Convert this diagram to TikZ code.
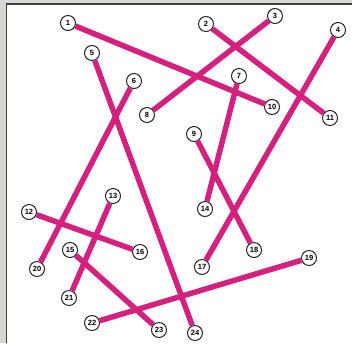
\documentclass[tikz,border=0pt]{standalone}
\usepackage{fontspec}
\setsansfont{Liberation Sans}
\definecolor{mag}{RGB}{214,32,128}
\definecolor{strip}{RGB}{215,215,212}
\begin{document}
\begin{tikzpicture}[x=1pt,y=-1pt,
  num/.style={circle,draw=black!85,line width=1pt,fill=white,minimum size=15pt,inner sep=0pt,font=\sffamily\bfseries\fontsize{7.5}{7.5}\selectfont},
  link/.style={draw=mag,line width=5.5pt}]
\useasboundingbox (0,0) rectangle (352,343);
\fill[white] (0,0) rectangle (352,343);
\fill[strip] (0,0) rectangle (352,3);
\fill[strip] (0,0) rectangle (5.5,343);
\draw[line width=1.2pt,black!75] (6.3,343) -- (6.3,4) -- (352,4);
\node[num] (n1) at (68,23) {1};
\node[num] (n2) at (206,24) {2};
\node[num] (n3) at (275,16) {3};
\node[num] (n4) at (338,30) {4};
\node[num] (n5) at (92,53) {5};
\node[num] (n6) at (134,81) {6};
\node[num] (n7) at (239,76) {7};
\node[num] (n8) at (147,115) {8};
\node[num] (n9) at (194,134) {9};
\node[num] (n10) at (272,107) {10};
\node[num] (n11) at (330,118) {11};
\node[num] (n12) at (29,212) {12};
\node[num] (n13) at (113,196) {13};
\node[num] (n14) at (205,209) {14};
\node[num] (n15) at (70,250) {15};
\node[num] (n16) at (140,252) {16};
\node[num] (n17) at (202,267) {17};
\node[num] (n18) at (254,250) {18};
\node[num] (n19) at (309,258) {19};
\node[num] (n20) at (37,269) {20};
\node[num] (n21) at (69,298) {21};
\node[num] (n22) at (92,323) {22};
\node[num] (n23) at (159,330) {23};
\node[num] (n24) at (195,333) {24};
\draw[link] (n1) -- (n10);
\draw[link] (n2) -- (n11);
\draw[link] (n3) -- (n8);
\draw[link] (n4) -- (n17);
\draw[link] (n5) -- (n24);
\draw[link] (n6) -- (n20);
\draw[link] (n7) -- (n14);
\draw[link] (n9) -- (n18);
\draw[link] (n12) -- (n16);
\draw[link] (n13) -- (n21);
\draw[link] (n15) -- (n23);
\draw[link] (n19) -- (n22);
\end{tikzpicture}
\end{document}
